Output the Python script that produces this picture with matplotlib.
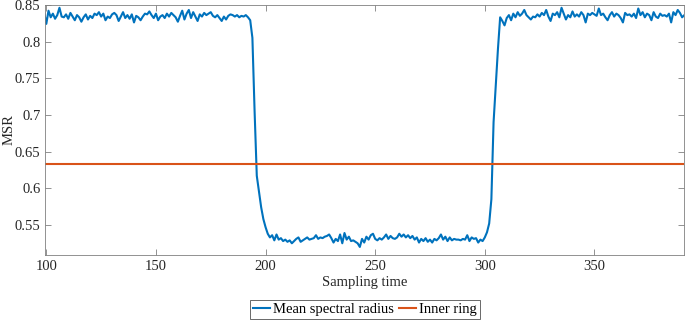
import numpy as np
import matplotlib.pyplot as plt

# Mean spectral radius, one value per sampling time starting at 99
start_time = 99
msr = [
    0.840, 0.824, 0.842, 0.833, 0.838, 0.831, 0.836, 0.846, 0.834, 0.833,
    0.837, 0.831, 0.839, 0.834, 0.829, 0.836, 0.833, 0.827, 0.833, 0.837,
    0.830, 0.835, 0.832, 0.838, 0.836, 0.840, 0.834, 0.838, 0.829, 0.834,
    0.832, 0.837, 0.839, 0.836, 0.828, 0.834, 0.840, 0.832, 0.836, 0.831,
    0.837, 0.826, 0.835, 0.833, 0.829, 0.834, 0.838, 0.837, 0.841, 0.836,
    0.832, 0.838, 0.829, 0.834, 0.836, 0.832, 0.838, 0.834, 0.839, 0.836,
    0.833, 0.827, 0.835, 0.842, 0.830, 0.838, 0.843, 0.832, 0.840, 0.834,
    0.828, 0.837, 0.834, 0.839, 0.836, 0.838, 0.840, 0.835, 0.833, 0.836,
    0.832, 0.828, 0.834, 0.830, 0.835, 0.837, 0.836, 0.834, 0.836, 0.833,
    0.835, 0.834, 0.836, 0.833, 0.829, 0.805, 0.705, 0.617, 0.595, 0.574,
    0.558, 0.547, 0.538, 0.533, 0.536, 0.529, 0.537, 0.530, 0.532, 0.528,
    0.530, 0.527, 0.529, 0.525, 0.528, 0.531, 0.533, 0.527, 0.529, 0.531,
    0.533, 0.530, 0.531, 0.532, 0.536, 0.531, 0.533, 0.532, 0.534, 0.535,
    0.537, 0.532, 0.526, 0.531, 0.528, 0.537, 0.525, 0.539, 0.530, 0.534,
    0.528, 0.529, 0.527, 0.525, 0.520, 0.531, 0.526, 0.534, 0.530, 0.536,
    0.538, 0.531, 0.529, 0.532, 0.530, 0.533, 0.537, 0.531, 0.535, 0.532,
    0.531, 0.533, 0.538, 0.534, 0.537, 0.533, 0.536, 0.532, 0.535, 0.530,
    0.533, 0.526, 0.531, 0.528, 0.532, 0.527, 0.530, 0.526, 0.531, 0.529,
    0.532, 0.537, 0.530, 0.534, 0.528, 0.533, 0.529, 0.531, 0.530, 0.530,
    0.529, 0.531, 0.530, 0.536, 0.528, 0.533, 0.531, 0.532, 0.526, 0.530,
    0.528, 0.533, 0.540, 0.552, 0.585, 0.690, 0.740, 0.790, 0.833, 0.828,
    0.822, 0.832, 0.836, 0.829, 0.838, 0.833, 0.840, 0.835, 0.838, 0.843,
    0.836, 0.833, 0.830, 0.834, 0.833, 0.837, 0.834, 0.839, 0.836, 0.843,
    0.834, 0.828, 0.838, 0.836, 0.840, 0.833, 0.846, 0.838, 0.830, 0.836,
    0.833, 0.841, 0.834, 0.837, 0.834, 0.840, 0.836, 0.826, 0.838, 0.836,
    0.839, 0.837, 0.835, 0.845, 0.836, 0.838, 0.833, 0.829, 0.836, 0.840,
    0.834, 0.838, 0.836, 0.832, 0.826, 0.839, 0.836, 0.837, 0.834, 0.838,
    0.832, 0.845, 0.836, 0.840, 0.833, 0.838, 0.836, 0.829, 0.840, 0.834,
    0.832, 0.838, 0.835, 0.836, 0.834, 0.838, 0.826, 0.840, 0.836, 0.843,
    0.839, 0.833, 0.836, 0.835,
]
inner_ring = 0.633

x_ticks = [100, 150, 200, 250, 300, 350]
y_ticks = [0.55, 0.6, 0.65, 0.7, 0.75, 0.8, 0.85]
y_tick_labels = ["0.55", "0.6", "0.65", "0.7", "0.75", "0.8", "0.85"]

plt.rcParams["font.family"] = "serif"
plt.rcParams["font.serif"] = ["Liberation Serif", "DejaVu Serif"]
plt.rcParams["font.size"] = 10.5

t = start_time + np.arange(len(msr))

fig = plt.figure(figsize=(6.85, 3.22), dpi=100, facecolor="white")
ax = fig.add_axes([0.066, 0.208, 0.933, 0.777])

ax.plot(t, msr, color="#0072BD", linewidth=1.5, label="Mean spectral radius")
ax.axhline(inner_ring, color="#D95319", linewidth=1.5, label="Inner ring")

ax.set_xlim(99.5, 391)
ax.set_ylim(0.509, 0.85)
ax.set_xticks(x_ticks)
ax.set_yticks(y_ticks)
ax.set_yticklabels(y_tick_labels)
ax.tick_params(direction="in", top=True, right=True, length=4,
               width=0.6, color="#808080", labelcolor="#262626")
for s in ax.spines.values():
    s.set_color("#808080")
    s.set_linewidth(0.6)

ax.set_xlabel("Sampling time", color="#262626", labelpad=2)
ax.set_ylabel("MSR", color="#262626")
ax.yaxis.set_label_coords(-0.046, 0.5)

leg = ax.legend(loc="upper center", bbox_to_anchor=(0.5, -0.18), ncol=2,
                frameon=True, fancybox=False, handlelength=1.2,
                handletextpad=0.2, columnspacing=0.3, borderpad=0.2,
                borderaxespad=0)
leg.get_frame().set_edgecolor("#262626")
leg.get_frame().set_linewidth(0.6)

fig.savefig("out.png", dpi=100)
